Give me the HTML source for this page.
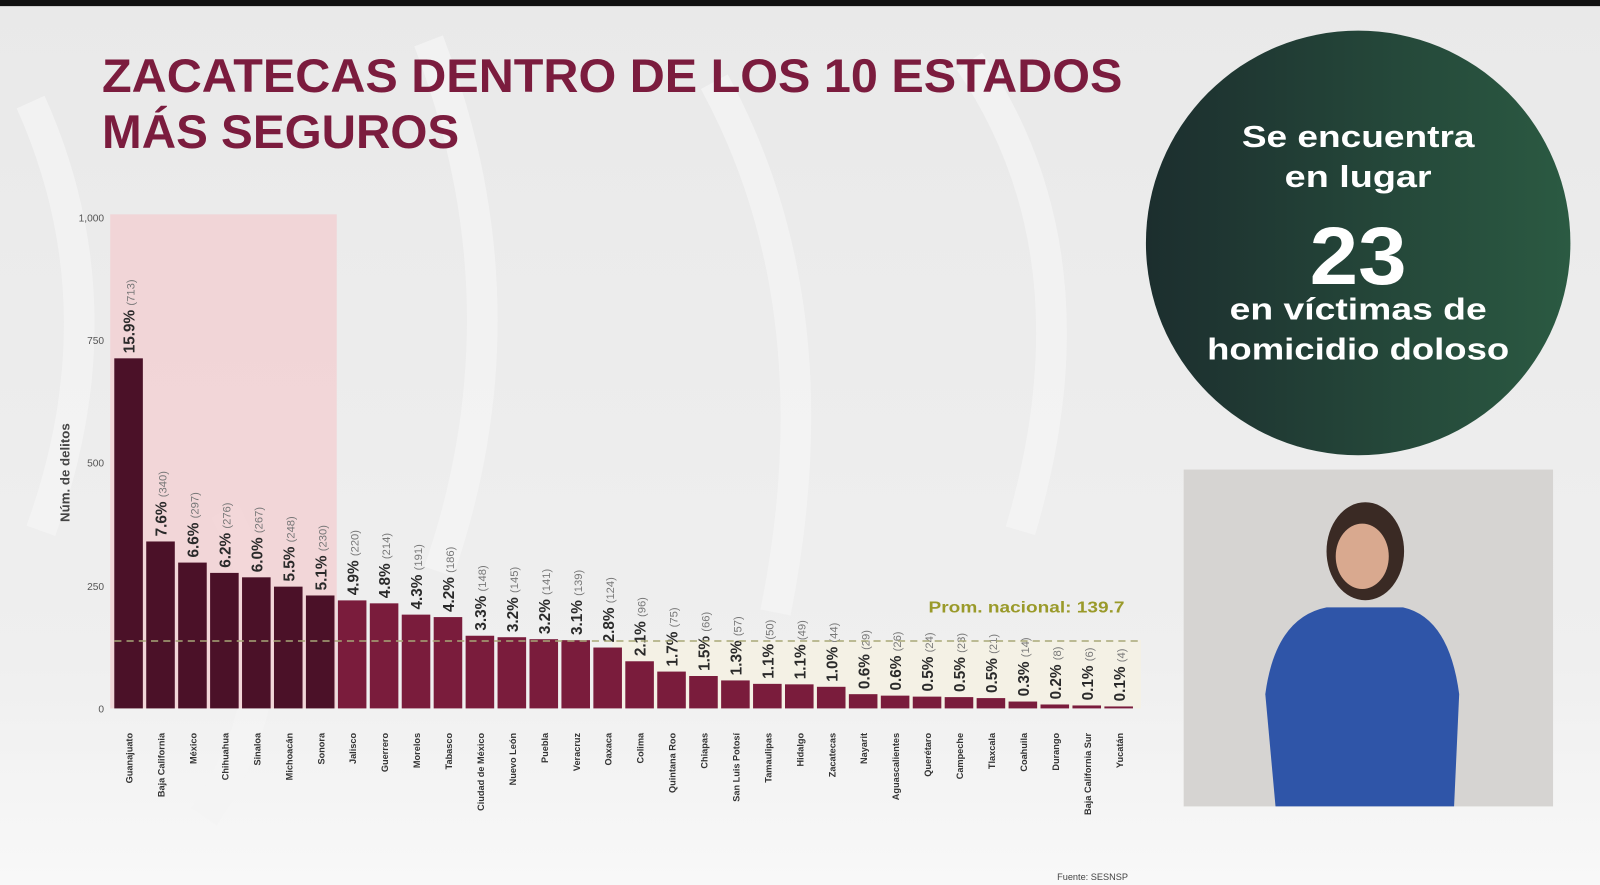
<!DOCTYPE html><html><head><meta charset="utf-8"><style>
body{margin:0;width:1600px;height:885px;overflow:hidden;background:#eeeeee;font-family:"Liberation Sans",sans-serif}
</style></head><body>
<svg width="1600" height="885" viewBox="0 0 1568 867" preserveAspectRatio="none" xmlns="http://www.w3.org/2000/svg" style="position:absolute;left:0;top:0">
<defs>
<linearGradient id="g" x1="0" y1="0" x2="1" y2="0"><stop offset="0" stop-color="#1c2e2e"/><stop offset="1" stop-color="#2b5a42"/></linearGradient>
<linearGradient id="bg" x1="0" y1="0" x2="0" y2="1"><stop offset="0" stop-color="#e9e9e9"/><stop offset="0.75" stop-color="#efefef"/><stop offset="1" stop-color="#f8f8f8"/></linearGradient>
</defs>
<rect width="1568" height="867" fill="url(#bg)"/>
<g fill="none" stroke="#f4f4f4" stroke-width="30" opacity="0.8">
<path d="M30 100 Q120 300 40 520"/><path d="M420 40 Q520 300 430 560"/><path d="M700 80 Q820 300 760 600"/><path d="M950 60 Q1080 250 1000 520"/><path d="M220 500 Q300 650 200 800"/>
</g>
<rect width="1568" height="6" fill="#111"/>
<text x="100" y="90" font-size="46" font-weight="bold" fill="#7b1c3e" textLength="1000" lengthAdjust="spacingAndGlyphs">ZACATECAS DENTRO DE LOS 10 ESTADOS</text>
<text x="100" y="145" font-size="46" font-weight="bold" fill="#7b1c3e" textLength="350" lengthAdjust="spacingAndGlyphs">MÁS SEGUROS</text>
<circle cx="1331" cy="238" r="208" fill="url(#g)"/>
<g fill="#fff" font-weight="bold" text-anchor="middle">
<text x="1331" y="144" font-size="30" textLength="228" lengthAdjust="spacingAndGlyphs">Se encuentra</text>
<text x="1331" y="183" font-size="30" textLength="144" lengthAdjust="spacingAndGlyphs">en lugar</text>
<text x="1331" y="278" font-size="80" textLength="95" lengthAdjust="spacingAndGlyphs">23</text>
<text x="1331" y="313" font-size="30" textLength="252" lengthAdjust="spacingAndGlyphs">en víctimas de</text>
<text x="1331" y="352" font-size="30" textLength="296" lengthAdjust="spacingAndGlyphs">homicidio doloso</text>
</g>
<rect x="1160" y="460" width="362" height="330" fill="#d6d4d2"/>
<ellipse cx="1338" cy="540" rx="38" ry="48" fill="#3a2a24"/>
<ellipse cx="1335" cy="545" rx="26" ry="32" fill="#d9a98f"/>
<path d="M1250 790 L1240 680 Q1250 605 1300 595 L1375 595 Q1420 605 1430 680 L1425 790 Z" fill="#2f55a8"/>
<rect x="108" y="210" width="222" height="484" fill="#f2d0d2" opacity="0.8"/>
<rect x="600" y="627" width="518" height="67" fill="#f4f1e3" opacity="0.9"/>
<g font-size="10" fill="#555" text-anchor="end">
<text x="102" y="217">1,000</text><text x="102" y="337">750</text><text x="102" y="457">500</text><text x="102" y="578">250</text><text x="102" y="698">0</text>
</g>
<text transform="translate(68,463) rotate(-90)" font-size="13" font-weight="bold" fill="#444" text-anchor="middle">Núm. de delitos</text>
<g id="bars"></g>
<line x1="112" y1="628" x2="1118" y2="628" stroke="#a8a878" stroke-width="1.5" stroke-dasharray="7,5"/>
<text x="910" y="600" font-size="15" font-weight="bold" fill="#9a9a2a" textLength="192" lengthAdjust="spacingAndGlyphs">Prom. nacional: 139.7</text>
<text x="1036" y="862" font-size="9" fill="#444">Fuente: SESNSP</text>
</svg>
<script>
var d=[["Guanajuato",713,"15.9%"],["Baja California",340,"7.6%"],["México",297,"6.6%"],["Chihuahua",276,"6.2%"],["Sinaloa",267,"6.0%"],["Michoacán",248,"5.5%"],["Sonora",230,"5.1%"],["Jalisco",220,"4.9%"],["Guerrero",214,"4.8%"],["Morelos",191,"4.3%"],["Tabasco",186,"4.2%"],["Ciudad de México",148,"3.3%"],["Nuevo León",145,"3.2%"],["Puebla",141,"3.2%"],["Veracruz",139,"3.1%"],["Oaxaca",124,"2.8%"],["Colima",96,"2.1%"],["Quintana Roo",75,"1.7%"],["Chiapas",66,"1.5%"],["San Luis Potosí",57,"1.3%"],["Tamaulipas",50,"1.1%"],["Hidalgo",49,"1.1%"],["Zacatecas",44,"1.0%"],["Nayarit",29,"0.6%"],["Aguascalientes",26,"0.6%"],["Querétaro",24,"0.5%"],["Campeche",23,"0.5%"],["Tlaxcala",21,"0.5%"],["Coahuila",14,"0.3%"],["Durango",8,"0.2%"],["Baja California Sur",6,"0.1%"],["Yucatán",4,"0.1%"]];
var s="";
d.forEach(function(r,i){var x=112+i*31.3,h=r[1]*0.481,y=694-h,c=i<7?"#4b1128":"#7a1c3c",cx=x+14;
s+='<rect x="'+x+'" y="'+y+'" width="28" height="'+h+'" fill="'+c+'"/>';
s+='<text transform="translate('+(cx+6)+','+(y-5)+') rotate(-90)" font-size="15" font-weight="bold" fill="#2a2a2a">'+r[2]+' <tspan font-size="11" font-weight="normal" fill="#777">('+r[1]+')</tspan></text>';
s+='<text transform="translate('+(cx+4)+',718) rotate(-90)" font-size="9" font-weight="bold" fill="#333" text-anchor="end">'+r[0]+'</text>';});
document.getElementById("bars").innerHTML=s;
</script>
</body></html>
